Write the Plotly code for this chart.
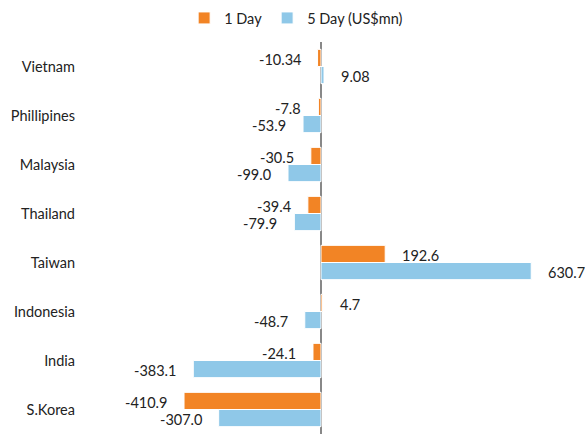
import plotly.graph_objects as go

countries = ["Vietnam", "Phillipines", "Malaysia", "Thailand", "Taiwan", "Indonesia", "India", "S.Korea"]
one_day = [-10.34, -7.8, -30.5, -39.4, 192.6, 4.7, -24.1, -410.9]
five_day = [9.08, -53.9, -99.0, -79.9, 630.7, -48.7, -383.1, -307.0]
one_day_text = ["-10.34", "-7.8", "-30.5", "-39.4", "192.6", "4.7", "-24.1", "-410.9"]
five_day_text = ["9.08", "-53.9", "-99.0", "-79.9", "630.7", "-48.7", "-383.1", "-307.0"]

ORANGE = "#F28425"
BLUE = "#8FC8E8"
FONT = "Lato"

fig = go.Figure()
fig.add_trace(go.Bar(y=countries, x=one_day, orientation="h", name="1 Day",
                     marker=dict(color=ORANGE, line=dict(color="white", width=1))))
fig.add_trace(go.Bar(y=countries, x=five_day, orientation="h", name="5 Day (US$mn)",
                     marker=dict(color=BLUE, line=dict(color="white", width=1))))

anns = []
for vals, texts, ys in [(one_day, one_day_text, 8.5), (five_day, five_day_text, -8.5)]:
    for c, v, t in zip(countries, vals, texts):
        anns.append(dict(x=v, y=c, xref="x", yref="y", text=t, showarrow=False,
                         xanchor="left" if v >= 0 else "right",
                         xshift=15 if v >= 0 else -15, yshift=ys - 1,
                         font=dict(family=FONT, size=14.5, color="#222")))

fig.update_layout(
    width=585, height=434,
    margin=dict(l=82, r=5, t=42, b=0, autoexpand=False),
    paper_bgcolor="white", plot_bgcolor="white",
    barmode="group", bargap=0.3, bargroupgap=0,
    font=dict(family=FONT, size=14.5, color="#222"),
    showlegend=True,
    legend=dict(orientation="h", x=0.43, xanchor="center", yref="container",
                y=1 - 18 / 434, yanchor="middle",
                font=dict(family=FONT, size=14.5), itemwidth=30, traceorder="normal"),
    annotations=anns,
    xaxis=dict(range=[-717, 777], showgrid=False, showticklabels=False, zeroline=True,
               zerolinecolor="#888888", zerolinewidth=1.5, fixedrange=True),
    yaxis=dict(autorange="reversed", showgrid=False, ticks="", ticklabelstandoff=6,
               tickfont=dict(family=FONT, size=14.5, color="#222")),
)

fig.write_html("out.html")
